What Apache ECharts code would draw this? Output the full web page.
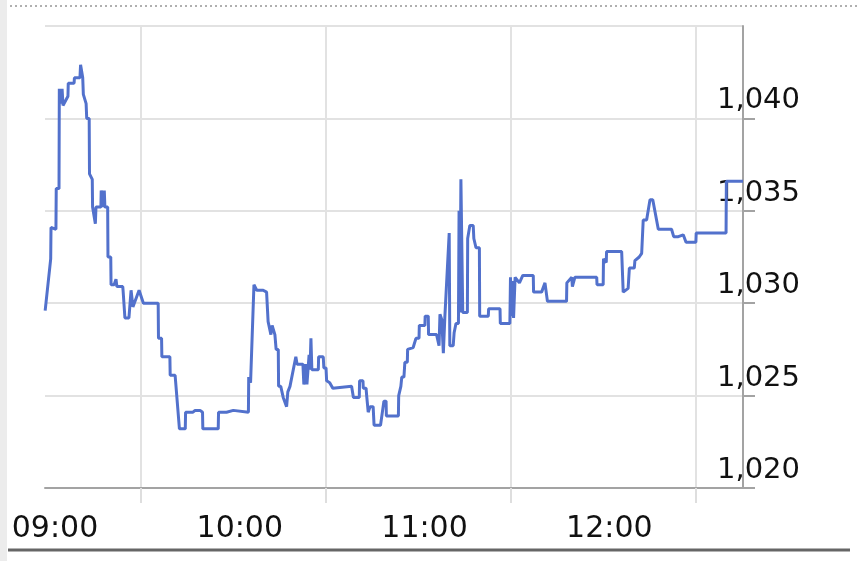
<!DOCTYPE html>
<html>
<head>
<meta charset="utf-8">
<script src="https://cdn.jsdelivr.net/npm/echarts@6/dist/echarts.min.js"></script>
<style>
html,body{margin:0;padding:0;background:#fff;}
#chart{width:857px;height:561px;}
</style>
</head>
<body>
<div id="chart"></div>
<script>
// minutes after 09:00
var times = [
-3.2,-1.4,-1.3,0.3,0.4,1.3,1.4,1.9,2.3,2.6,2.9,4.2,4.3,6.2,6.3,8.1,8.3,9.0,9.2,10.1,
10.3,11.1,11.2,12.1,12.2,13.1,13.3,14.9,15.0,15.6,15.8,16.0,16.2,17.1,17.2,18.1,18.2,19.2,19.8,20.1,
22.0,22.1,22.7,24.0,24.7,25.3,25.8,27.3,28.7,33.5,33.6,34.6,34.7,37.3,37.4,39.0,40.4,42.3,42.4,44.8,
45.5,47.1,47.9,48.0,53.0,53.1,55.7,55.8,57.9,58.0,62.8,62.9,63.5,64.6,65.5,67.6,68.7,69.2,69.8,70.1,
70.5,71.4,71.8,72.5,72.6,73.3,74.1,75.2,75.6,76.3,78.2,78.6,80.5,80.8,81.5,81.8,82.5,82.8,83.1,83.4,
85.5,85.6,87.1,87.3,88.0,88.2,89.2,90.2,96.3,96.8,96.9,98.8,98.9,100.0,100.1,101.0,101.2,101.7,102.3,103.3,
103.6,105.7,106.8,107.5,107.6,111.5,111.6,112.3,112.6,113.3,113.6,114.4,114.5,116.3,117.2,118.2,118.3,120.1,120.2,121.2,
121.3,123.9,124.7,125.0,125.6,126.1,126.6,128.0,128.2,129.3,129.6,130.2,131.0,131.2,131.5,131.8,132.4,133.9,134.0,134.7,
135.8,136.0,136.7,137.8,137.9,140.7,140.8,144.5,144.6,147.7,147.9,148.2,148.5,148.9,149.4,149.9,150.8,151.9,155.3,155.4,
158.0,159.1,159.9,166.1,166.2,167.8,168.0,168.8,175.9,176.0,178.0,178.1,179.0,179.1,184.0,184.5,186.1,186.5,188.1,188.3,
189.7,190.5,191.0,192.1,193.2,194.1,195.9,200.2,200.3,200.8,200.9,202.4,204.0,204.9,208.1,208.2,217.9,218.0,223.4
];
var prices = [
1029.6,1032.4,1034.1,1034.0,1036.2,1036.2,1041.6,1040.8,1041.6,1040.7,1040.8,1041.2,1041.9,1041.9,1042.2,1042.2,1042.9,1042.2,1041.3,1040.8,
1040.0,1040.0,1037.0,1036.7,1035.2,1034.3,1035.2,1035.2,1036.1,1036.1,1035.2,1036.1,1035.2,1035.2,1032.5,1032.5,1031.0,1031.0,1031.3,1030.9,
1030.9,1030.7,1029.2,1029.2,1030.7,1029.8,1029.8,1030.7,1030.0,1030.0,1028.1,1028.1,1027.1,1027.1,1026.1,1026.1,1023.2,1023.2,1024.1,1024.1,
1024.2,1024.2,1024.1,1023.2,1023.2,1024.1,1024.1,1024.2,1024.2,1024.1,1024.1,1026.0,1025.7,1031.0,1030.7,1030.7,1030.6,1029.0,1029.0,1028.3,
1028.8,1028.3,1027.5,1027.5,1025.5,1025.5,1024.9,1024.4,1025.2,1025.5,1027.1,1026.7,1026.7,1025.6,1026.7,1025.6,1027.2,1026.4,1028.1,1026.4,
1026.4,1027.1,1027.1,1026.5,1026.5,1025.8,1025.7,1025.4,1025.5,1025.4,1024.9,1024.9,1025.8,1025.8,1025.4,1025.4,1025.0,1024.1,1024.4,1024.4,
1023.4,1023.4,1024.7,1024.7,1023.9,1023.9,1025.0,1025.5,1026.0,1026.0,1026.8,1026.8,1027.5,1027.6,1028.1,1028.1,1028.8,1028.8,1029.3,1029.3,
1028.3,1028.3,1027.7,1029.4,1029.1,1027.3,1029.3,1033.8,1027.7,1027.7,1028.4,1028.9,1028.9,1035.0,1029.5,1036.7,1029.5,1029.5,1033.5,1034.2,
1034.2,1033.5,1033.0,1033.0,1029.3,1029.3,1029.7,1029.7,1028.9,1028.9,1031.4,1029.3,1031.2,1029.2,1031.4,1031.4,1031.1,1031.5,1031.5,1030.6,
1030.6,1031.1,1030.1,1030.1,1031.1,1031.4,1030.9,1031.4,1031.4,1031.0,1031.0,1032.4,1032.2,1032.8,1032.8,1030.6,1030.8,1031.9,1031.9,1032.3,
1032.5,1032.7,1034.5,1034.5,1035.6,1035.6,1034.0,1034.0,1034.1,1034.1,1033.6,1033.6,1033.7,1033.3,1033.3,1033.8,1033.8,1036.6,1036.6
];
var xLabels = ['09:00','10:00','11:00','12:00'];
var xLabelMinutes = [0, 60, 120, 180];
var xGridMinutes = [28, 88, 148, 208];
var yMin = 1020, yMax = 1045, yStep = 5;

var data = times.map(function (t, i) { return [t, prices[i]]; });

var chart = echarts.init(document.getElementById('chart'));
chart.setOption({
  animation: false,
  backgroundColor: '#fff',
  grid: { left: 45, right: 114, top: 26, bottom: 73, containLabel: false },
  xAxis: {
    type: 'value',
    min: -3.25,
    max: 223.4,
    axisLine: { show: true, onZero: false, lineStyle: { color: '#a3a3a3', width: 2 } },
    axisTick: { show: true, customValues: xGridMinutes, length: 15, lineStyle: { color: '#dedede', width: 2 } },
    splitLine: { show: true, lineStyle: { color: '#e2e2e2', width: 2 } },
    axisLabel: {
      customValues: xLabelMinutes,
      formatter: function (v) { var i = xLabelMinutes.indexOf(v); return i >= 0 ? xLabels[i] : ''; },
      fontFamily: 'DejaVu Sans', fontSize: 30, color: '#111', margin: 26
    }
  },
  yAxis: {
    type: 'value',
    position: 'right',
    min: yMin, max: yMax, interval: yStep,
    axisLine: { show: true, onZero: false, lineStyle: { color: '#a3a3a3', width: 2 } },
    axisTick: { show: true, inside: false, length: 12, lineStyle: { color: '#a3a3a3', width: 2 } },
    splitLine: { show: true, lineStyle: { color: '#e2e2e2', width: 2 } },
    axisLabel: {
      showMaxLabel: false,
      formatter: function (v) { return v === yMax ? '' : v.toLocaleString('en-US'); },
      fontFamily: 'DejaVu Sans', fontSize: 29, color: '#111',
      align: 'right', margin: 57, verticalAlign: 'bottom', lineHeight: 29, padding: [0, 0, 3, 0]
    }
  },
  series: [{
    type: 'line',
    data: data,
    showSymbol: false,
    lineStyle: { color: '#5271cc', width: 3 },
    itemStyle: { color: '#5271cc' }
  }],
  graphic: [
    { type: 'rect', shape: { x: 0, y: 0, width: 7, height: 561 }, style: { fill: '#ececec' } },
    { type: 'line', shape: { x1: 10, y1: 6, x2: 857, y2: 6 }, style: { stroke: '#b0b0b0', lineWidth: 2, lineDash: [2, 3] } },
    { type: 'line', shape: { x1: 8, y1: 550, x2: 850, y2: 550 }, style: { stroke: '#666', lineWidth: 3 } }
  ]
});
</script>
</body>
</html>
